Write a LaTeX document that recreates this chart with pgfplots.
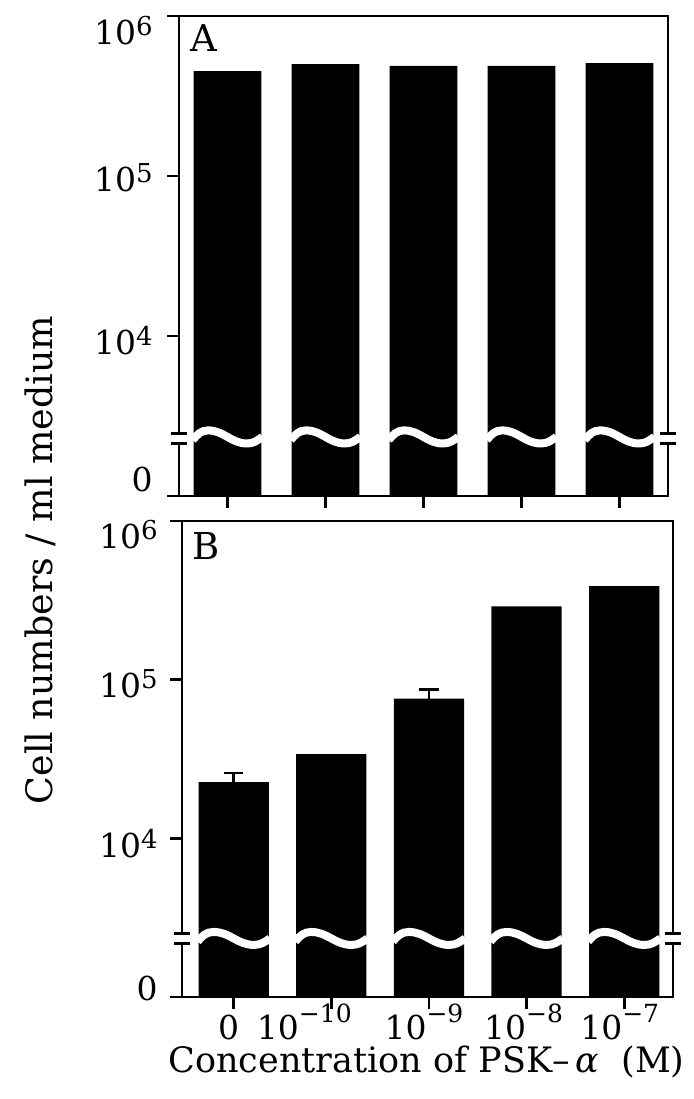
\documentclass[border=0pt]{standalone}
\usepackage{fontspec}
\setmainfont{DejaVu Serif}
\usepackage{pgfplots}
\usepackage{pgfplotstable}
\pgfplotsset{compat=1.18}

\pgfplotstableread{
x y
0 453000
1 501000
2 487000
3 487000
4 508000
}\dataA
\pgfplotstableread{
x y
0 22600
1 34000
2 75900
3 290000
4 388000
}\dataB

\newcommand{\tl}[1]{\mbox{\fontsize{16.5}{19}\selectfont #1}}
\newcommand{\ye}[1]{\raisebox{4.5pt}{\fontsize{13}{14}\selectfont #1}}
\newcommand{\xe}[1]{\raisebox{8.5pt}{\fontsize{12.5}{13}\selectfont #1}}

\begin{document}
\begin{tikzpicture}
\useasboundingbox (0,0) rectangle (346.5pt,549.5pt);

% ---------- Panel A ----------
\begin{axis}[
  scale only axis, anchor=south west,
  at={(89.5pt,301.5pt)}, width=244.5pt, height=240pt,
  ymode=log, ymin=1000, ymax=1000000, log origin=infty,
  ytick={1000,10000,100000,1000000},
  yminorticks=false,
  xtick={0,1,2,3,4},
  xtick pos=bottom, ytick pos=left,
  tick align=outside,
  major tick length=6pt,
  axis line style={line width=1.4pt},
  tick style={line width=1.4pt, black},
  clip=false,
  xmin=-0.495, xmax=4.495,
  xticklabels={},
  yticklabels={\tl{\raisebox{2.3pt}{0}},\tl{\raisebox{-9.1pt}{10\ye{4}}},\tl{\raisebox{-7.7pt}{10\ye{5}}},\tl{\raisebox{-14.1pt}{10\ye{6}}}},
  yticklabel style={anchor=base east, inner sep=0pt, xshift=-7pt},
]
\addplot[ybar, bar width=0.69, fill=black, draw=none] table[x=x,y=y] {\dataA};
\pgfplotsinvokeforeach{0,1,2,3,4}{%
  \draw[white, line width=4pt]
    (axis cs:#1-0.355,2239) to[out=50,in=180] (axis cs:#1-0.199,2570)
    to[out=0,in=180] (axis cs:#1+0.199,2129) to[out=0,in=215] (axis cs:#1+0.355,2339);
}
\coordinate (AL1) at (rel axis cs:0,0.110);
\coordinate (AL2) at (rel axis cs:0,0.131);
\coordinate (AR1) at (rel axis cs:1,0.110);
\coordinate (AR2) at (rel axis cs:1,0.131);
\end{axis}

% ---------- Panel B ----------
\begin{axis}[
  scale only axis, anchor=south west,
  at={(91pt,51pt)}, width=245.5pt, height=238pt,
  ymode=log, ymin=1000, ymax=1000000, log origin=infty,
  ytick={1000,10000,100000,1000000},
  yminorticks=false,
  xtick={0,1,2,3,4},
  xtick pos=bottom, ytick pos=left,
  tick align=outside,
  major tick length=6pt,
  axis line style={line width=1.4pt},
  tick style={line width=1.4pt, black},
  clip=false,
  xmin=-0.53, xmax=4.50,
  xticklabels={\tl{0\kern5pt},\tl{10\xe{−10}\kern27pt},\tl{10\xe{−9}\kern5pt},\tl{10\xe{−8}\kern3pt},\tl{10\xe{−7}\kern4.5pt}},
  xticklabel style={anchor=base, inner sep=0pt, yshift=-15.5pt},
  yticklabels={\tl{\raisebox{-1.7pt}{0}},\tl{\raisebox{-9.7pt}{10\ye{4}}},\tl{\raisebox{-8.7pt}{10\ye{5}}},\tl{\raisebox{-13.7pt}{10\ye{6}}}},
  yticklabel style={anchor=base east, inner sep=0pt, xshift=-6pt},
]
\addplot[ybar, bar width=0.72, fill=black, draw=none] table[x=x,y=y] {\dataB};
% error bars (upper only): stem and cap
\addplot[black, line width=1.3pt, mark=none] coordinates {(0,22600) (0,25800)};
\addplot[black, line width=1.3pt, mark=none] coordinates {(-0.1,25800) (0.1,25800)};
\addplot[black, line width=1.3pt, mark=none] coordinates {(2,75900) (2,86500)};
\addplot[black, line width=1.3pt, mark=none] coordinates {(1.9,86500) (2.1,86500)};
\pgfplotsinvokeforeach{0,1,2,3,4}{%
  \draw[white, line width=4pt]
    (axis cs:#1-0.37,2239) to[out=50,in=180] (axis cs:#1-0.207,2570)
    to[out=0,in=180] (axis cs:#1+0.207,2129) to[out=0,in=215] (axis cs:#1+0.37,2339);
}
\coordinate (BL1) at (rel axis cs:0,0.113);
\coordinate (BL2) at (rel axis cs:0,0.134);
\coordinate (BR1) at (rel axis cs:1,0.113);
\coordinate (BR2) at (rel axis cs:1,0.134);
\end{axis}

% axis breaks
\foreach \p in {A,B}{
  \fill[white] ([xshift=-2.5pt]\p L1) rectangle ([xshift=2.5pt]\p L2);
  \fill[white] ([xshift=-2.5pt]\p R1) rectangle ([xshift=2.5pt]\p R2);
  \draw[line width=1.4pt] ([xshift=-4pt]\p L1) -- ([xshift=4pt]\p L1)
                          ([xshift=-4pt]\p L2) -- ([xshift=4pt]\p L2)
                          ([xshift=-4pt]\p R1) -- ([xshift=4pt]\p R1)
                          ([xshift=-4pt]\p R2) -- ([xshift=4pt]\p R2);
}

% panel letters
\node[anchor=base west, inner sep=0pt, font=\fontsize{18.5}{21}\selectfont] at (95pt,523.5pt) {A};
\node[anchor=base west, inner sep=0pt, font=\fontsize{18.5}{21}\selectfont] at (96pt,269.5pt) {B};

% axis titles
\node[rotate=90, inner sep=0pt, font=\fontsize{18.2}{21}\selectfont] at (20pt,269.5pt) {Cell numbers / ml medium};
\node[anchor=base, inner sep=0pt, font=\fontsize{17.5}{20}\selectfont] at (213.25pt,13pt) {Concentration of PSK–\,\textit{α}\ \ (M)};
\end{tikzpicture}
\end{document}
